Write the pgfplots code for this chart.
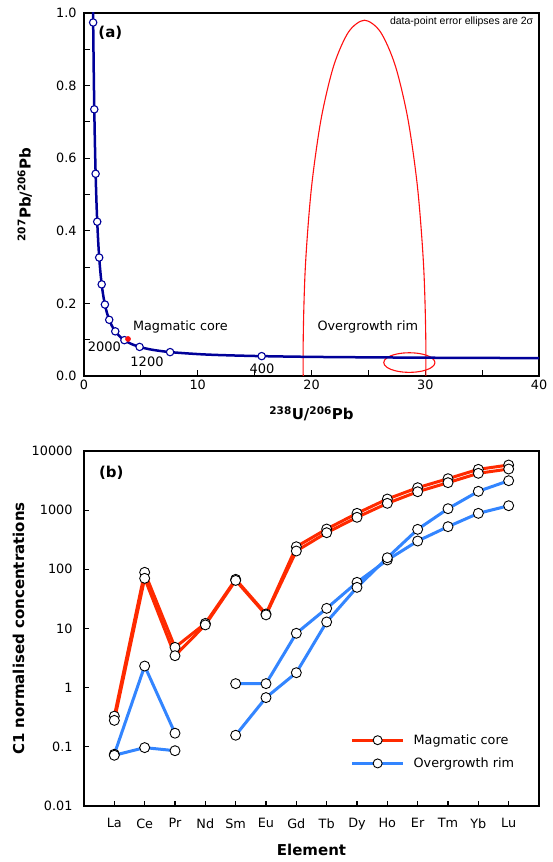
\documentclass[border=0pt]{standalone}
\usepackage{fontspec}
\setmainfont{DejaVu Sans}
\newfontfamily\arialf{Liberation Sans}
\usepackage{pgfplots}
\usepackage{pgfplotstable}
\pgfplotsset{compat=1.18}
\definecolor{concblue}{HTML}{000099}
\definecolor{coreRed}{HTML}{FF2A00}
\definecolor{rimBlue}{HTML}{3385FF}
\definecolor{ellRed}{HTML}{FF1010}

% REE data, element index 1 (La) ... 14 (Lu)
\pgfplotstableread{
x y
1 0.33
2 89
3 4.8
4 12.2
5 67.8
6 17.6
7 241
8 480
9 884
10 1543
11 2397
12 3404
13 4898
14 5794
}\coreA
\pgfplotstableread{
x y
1 0.28
2 70.5
3 3.47
4 11.5
5 65
6 17
7 204
8 416
9 757
10 1305
11 2050
12 2915
13 4198
14 4959
}\coreB
\pgfplotstableread{
x y
1 0.075
2 2.32
3 0.17
}\rimAlree
\pgfplotstableread{
x y
5 1.17
6 1.17
7 8.3
8 21.9
9 60.3
10 144
11 301
12 526
13 884
14 1189
}\rimAhree
\pgfplotstableread{
x y
1 0.072
2 0.097
3 0.086
}\rimBlree
\pgfplotstableread{
x y
5 0.157
6 0.68
7 1.79
8 12.9
9 49.6
10 157
11 474
12 1059
13 2081
14 3148
}\rimBhree

\pgfplotsset{
  panel/.style={
    scale only axis,
    anchor=south west,
    width=455pt,
    axis line style={line width=2.2pt, black},
    tick style={line width=1.1pt, black},
    /pgf/number format/assume math mode=true,
    tick label style={font=\fontsize{12.8}{14}\selectfont},
    label style={font=\bfseries\fontsize{15}{17}\selectfont},
  },
  reeline/.style={line width=3pt, mark=none, forget plot},
  reemark/.style={only marks, mark=*, mark size=5pt,
    mark options={fill=white, draw=black, line width=0.9pt}, forget plot},
}

\begin{document}
\begin{tikzpicture}
\useasboundingbox (0,0) rectangle (552pt,862pt);

% (a) Tera-Wasserburg concordia
\begin{axis}[panel,
    at={(84pt,486pt)}, height=363pt,
    xmin=0, xmax=40, ymin=0, ymax=1,
    xtick={0,10,20,30,40}, minor xtick={5,15,25,35},
    xticklabels={0,10,20,30,40},
    ytick={0,0.2,0.4,0.6,0.8,1},
    yticklabels={0.0,0.2,0.4,0.6,0.8,1.0},
    minor ytick={0.1,0.3,0.5,0.7,0.9},
    xtick pos=bottom, ytick pos=left,
    major tick length=6pt, minor tick length=6pt,
    yticklabel style={xshift=-4pt},
    xlabel={\textsuperscript{238}U/\textsuperscript{206}Pb},
    ylabel={\textsuperscript{207}Pb/\textsuperscript{206}Pb},
    xlabel style={at={(axis description cs:0.5,-0.105)}, anchor=center},
    ylabel style={at={(axis description cs:-0.13,0.5)}, anchor=center},
]
% error ellipses
\addplot[ellRed, line width=1.1pt, smooth] coordinates {
(24.66,-0.88) (26.058,-0.848) (27.36,-0.7554) (28.478,-0.6076) (29.336,-0.415)
(29.876,-0.1907) (30.06,0.05) (29.876,0.2907) (29.336,0.515) (28.478,0.7076)
(27.36,0.8554) (26.058,0.948) (24.66,0.98) (23.262,0.948) (21.96,0.8554)
(20.842,0.7076) (19.984,0.515) (19.444,0.2907) (19.26,0.05) (19.444,-0.1907)
(19.984,-0.415) (20.842,-0.6076) (21.96,-0.7554) (23.262,-0.848) (24.66,-0.88)
};
\addplot[ellRed, line width=1.1pt, smooth] coordinates {
(30.85,0.037) (30.773,0.044) (30.549,0.0505) (30.191,0.0561) (29.725,0.0604)
(29.182,0.0631) (28.6,0.064) (28.018,0.0631) (27.475,0.0604) (27.009,0.0561)
(26.652,0.0505) (26.427,0.044) (26.35,0.037) (26.427,0.030) (26.652,0.0235)
(27.009,0.0179) (27.475,0.0136) (28.018,0.0109) (28.6,0.010) (29.182,0.0109)
(29.725,0.0136) (30.191,0.0179) (30.549,0.0235) (30.773,0.030) (30.85,0.037)
};
% concordia
\addplot[concblue, line width=2.5pt, smooth] coordinates {
(42.48,0.04904) (31.735,0.05011) (20.992,0.05233) (15.621,0.05470)
(12.399,0.05722) (10.252,0.05990) (7.5684,0.06580) (5.9594,0.07250)
(4.8875,0.08012) (4.1227,0.08881) (3.5497,0.09872) (3.1046,0.11004)
(2.7490,0.12299) (2.4586,0.13782) (2.2170,0.15483) (2.0129,0.17437)
(1.8384,0.19682) (1.6874,0.22266) (1.5557,0.25242) (1.4397,0.28674)
(1.3370,0.32635) (1.2453,0.37210) (1.1630,0.42501) (1.0888,0.48623)
(1.0215,0.55714) (0.96036,0.63932) (0.90449,0.73464) (0.85328,0.84528)
(0.80620,0.97378) (0.78406,1.0456)
};
% age markers, 400 Ma steps
\addplot[only marks, mark=*, mark size=3.7pt,
  mark options={fill=white, draw=concblue, line width=1.1pt}] coordinates {
(15.621,0.0547) (7.5684,0.0658) (4.8875,0.0801) (3.5497,0.0987)
(2.7490,0.1230) (2.2170,0.1548) (1.8384,0.1968) (1.5557,0.2524)
(1.3370,0.3263) (1.1630,0.4250) (1.0215,0.5571) (0.9045,0.7346)
(0.8062,0.9738)
};
% magmatic core analysis
\addplot[only marks, mark=*, mark size=2.6pt, color=ellRed] coordinates {(3.87,0.102)};

\node[anchor=west, font=\fontsize{12.8}{14}\selectfont] at (axis cs:4.0,0.135) {Magmatic core};
\node[font=\fontsize{12.8}{14}\selectfont] at (axis cs:24.95,0.135) {Overgrowth rim};
\node[font=\fontsize{13}{15}\selectfont] at (axis cs:1.80,0.080) {2000};
\node[font=\fontsize{13}{15}\selectfont] at (axis cs:5.54,0.0386) {1200};
\node[font=\fontsize{13}{15}\selectfont] at (axis cs:15.65,0.019) {400};
\node[anchor=north east, inner sep=0pt, font=\arialf\fontsize{10.5}{12}\selectfont]
  at (axis cs:39.5,0.99) {data-point error ellipses are 2σ};
\node[font=\bfseries\fontsize{15}{17}\selectfont] at (axis description cs:0.058,0.945) {(a)};
\end{axis}

% (b) chondrite-normalised REE
\begin{axis}[panel,
    at={(84pt,56pt)}, height=355pt,
    xmin=0, xmax=15,
    ymode=log, ymin=0.01, ymax=10000,
    xtick={1,...,14},
    xticklabels={La,Ce,Pr,Nd,Sm,Eu,Gd,Tb,Dy,Ho,Er,Tm,Yb,Lu},
    ytick={0.01,0.1,1,10,100,1000,10000},
    yticklabels={0.01,0.1,1,10,100,1000,10000},
    yminorticks=false,
    xtick pos=bottom, ytick pos=left,
    major tick length=5pt,
    yticklabel style={xshift=-8pt},
    xticklabel style={yshift=-9pt},
    xlabel={Element},
    ylabel={C1 normalised concentrations},
    xlabel style={at={(axis description cs:0.5,-0.124)}, anchor=center},
    ylabel style={at={(axis description cs:-0.144,0.5)}, anchor=center},
    legend image code/.code={\draw[mark repeat=2,mark phase=2,#1]
      plot coordinates {(0pt,0pt) (25.5pt,0pt) (51pt,0pt)};},
    legend style={draw=none, fill=none, at={(axis description cs:0.579,0.213)},
      anchor=north west, font=\fontsize{12.8}{14}\selectfont, row sep=8pt,
      /tikz/every odd column/.append style={column sep=7pt}},
    legend cell align=left,
]
% lines first
\addplot[coreRed, reeline] table {\coreA};
\addplot[coreRed, reeline] table {\coreB};
\addplot[rimBlue, reeline] table {\rimAlree};
\addplot[rimBlue, reeline] table {\rimAhree};
\addplot[rimBlue, reeline] table {\rimBlree};
\addplot[rimBlue, reeline] table {\rimBhree};
% open circles on top
\addplot[reemark] table {\coreA};
\addplot[reemark] table {\coreB};
\addplot[reemark] table {\rimAlree};
\addplot[reemark] table {\rimAhree};
\addplot[reemark] table {\rimBlree};
\addplot[reemark] table {\rimBhree};

\addlegendimage{coreRed, line width=3pt, mark=*, mark size=4.5pt,
  mark options={fill=white, draw=black, line width=0.9pt}}
\addlegendentry{Magmatic core}
\addlegendimage{rimBlue, line width=3pt, mark=*, mark size=4.5pt,
  mark options={fill=white, draw=black, line width=0.9pt}}
\addlegendentry{Overgrowth rim}

\node[font=\bfseries\fontsize{15}{17}\selectfont] at (axis description cs:0.060,0.938) {(b)};
\end{axis}
\end{tikzpicture}
\end{document}
